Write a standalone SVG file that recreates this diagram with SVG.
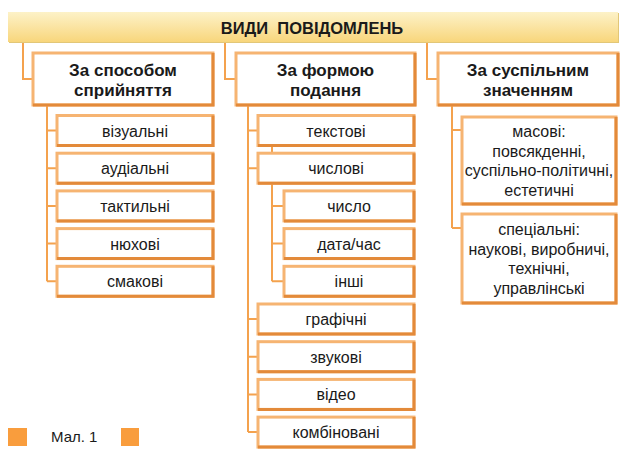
<svg xmlns="http://www.w3.org/2000/svg" width="624" height="451" viewBox="0 0 624 451">
<defs>
<linearGradient id="hdr" x1="0" y1="0" x2="0" y2="1">
<stop offset="0" stop-color="#fdf2c8"/>
<stop offset="1" stop-color="#f8d67c"/>
</linearGradient>
<style>
.box{fill:#ffffff;stroke:#f6b472;stroke-width:3}
.sh{fill:none;stroke:#e38a3a;stroke-width:3}
.con{fill:none;stroke:#f4a24e;stroke-width:2}
.t{font-family:"Liberation Sans",Arial,sans-serif;font-size:16px;fill:#1a1a1a;text-anchor:middle}
.b{font-weight:bold;font-size:17px}
</style>
</defs>
<rect width="624" height="451" fill="#ffffff"/>
<g id="connectors">
<path class="con" d="M23 42V79H33M225 42V79H236M427 42V79H438"/>
<path class="con" d="M47 105V281.3M47 130.5H57M47 168.2H57M47 205.9H57M47 243.6H57M47 281.3H57"/>
<path class="con" d="M248 105V432.1M248 130.5H258M248 168.2H258M248 319H258M248 356.7H258M248 394.4H258M248 432.1H258"/>
<path class="con" d="M272 146V281.3M272 205.9H284M272 243.6H284M272 281.3H284"/>
<path class="con" d="M452 105V228M452 130H462M452 228H462"/>
</g>
<g id="header">
<rect x="9" y="13" width="610" height="30" fill="#e2c778"/>
<rect x="8" y="12" width="610" height="30" fill="url(#hdr)"/>
<text class="t b" x="312" y="33.5" style="white-space:pre;font-size:16.5px">ВИДИ  ПОВІДОМЛЕНЬ</text>
</g>
<g id="n-sposib">
<rect class="box" x="33" y="53" width="180" height="52"/>
<path class="sh" d="M213 53V105H33"/>
<text class="t b" x="123" y="76">За способом</text>
<text class="t b" x="123" y="96">сприйняття</text>
</g>
<g id="n-forma">
<rect class="box" x="236" y="53" width="179" height="52"/>
<path class="sh" d="M415 53V105H236"/>
<text class="t b" x="325.5" y="76">За формою</text>
<text class="t b" x="325.5" y="96">подання</text>
</g>
<g id="n-znach">
<rect class="box" x="438" y="53" width="180" height="52"/>
<path class="sh" d="M618 53V105H438"/>
<text class="t b" x="528" y="76">За суспільним</text>
<text class="t b" x="528" y="96">значенням</text>
</g>
<g id="n-vizualni">
<rect class="box" x="57" y="115.5" width="156" height="30"/>
<path class="sh" d="M213 115.5V145.5H57"/>
<text class="t" x="135" y="136.5">візуальні</text>
</g>
<g id="n-audialni">
<rect class="box" x="57" y="153.2" width="156" height="30"/>
<path class="sh" d="M213 153.2V183.2H57"/>
<text class="t" x="135" y="174.2">аудіальні</text>
</g>
<g id="n-taktylni">
<rect class="box" x="57" y="190.9" width="156" height="30"/>
<path class="sh" d="M213 190.9V220.9H57"/>
<text class="t" x="135" y="211.9">тактильні</text>
</g>
<g id="n-niukhovi">
<rect class="box" x="57" y="228.6" width="156" height="30"/>
<path class="sh" d="M213 228.6V258.6H57"/>
<text class="t" x="135" y="249.6">нюхові</text>
</g>
<g id="n-smakovi">
<rect class="box" x="57" y="266.3" width="156" height="30"/>
<path class="sh" d="M213 266.3V296.3H57"/>
<text class="t" x="135" y="287.3">смакові</text>
</g>
<g id="n-tekstovi">
<rect class="box" x="258" y="115.5" width="156" height="30"/>
<path class="sh" d="M414 115.5V145.5H258"/>
<text class="t" x="336" y="136.5">текстові</text>
</g>
<g id="n-chyslovi">
<rect class="box" x="258" y="153.2" width="156" height="30"/>
<path class="sh" d="M414 153.2V183.2H258"/>
<text class="t" x="336" y="174.2">числові</text>
</g>
<g id="n-chyslo">
<rect class="box" x="284" y="190.9" width="130" height="30"/>
<path class="sh" d="M414 190.9V220.9H284"/>
<text class="t" x="349" y="211.9">число</text>
</g>
<g id="n-data">
<rect class="box" x="284" y="228.6" width="130" height="30"/>
<path class="sh" d="M414 228.6V258.6H284"/>
<text class="t" x="349" y="249.6">дата/час</text>
</g>
<g id="n-inshi">
<rect class="box" x="284" y="266.3" width="130" height="30"/>
<path class="sh" d="M414 266.3V296.3H284"/>
<text class="t" x="349" y="287.3">інші</text>
</g>
<g id="n-hrafichni">
<rect class="box" x="258" y="304" width="156" height="30"/>
<path class="sh" d="M414 304V334H258"/>
<text class="t" x="336" y="325">графічні</text>
</g>
<g id="n-zvukovi">
<rect class="box" x="258" y="341.7" width="156" height="30"/>
<path class="sh" d="M414 341.7V371.7H258"/>
<text class="t" x="336" y="362.7">звукові</text>
</g>
<g id="n-video">
<rect class="box" x="258" y="379.4" width="156" height="30"/>
<path class="sh" d="M414 379.4V409.4H258"/>
<text class="t" x="336" y="400.4">відео</text>
</g>
<g id="n-kombinovani">
<rect class="box" x="258" y="417.1" width="156" height="30"/>
<path class="sh" d="M414 417.1V447.1H258"/>
<text class="t" x="336" y="438.1">комбіновані</text>
</g>
<g id="n-masovi">
<rect class="box" x="462" y="117" width="154" height="87"/>
<path class="sh" d="M616 117V204H462"/>
<text class="t" x="539" y="137">масові:</text>
<text class="t" x="539" y="156.5">повсякденні,</text>
<text class="t" x="539" y="176">суспільно-політичні,</text>
<text class="t" x="539" y="195.5">естетичні</text>
</g>
<g id="n-spetsialni">
<rect class="box" x="462" y="214" width="154" height="89"/>
<path class="sh" d="M616 214V303H462"/>
<text class="t" x="539" y="235">спеціальні:</text>
<text class="t" x="539" y="254.5">наукові, виробничі,</text>
<text class="t" x="539" y="274">технічні,</text>
<text class="t" x="539" y="293.5">управлінські</text>
</g>
<g id="caption">
<rect x="8" y="428" width="19" height="18" fill="#f99d3d"/>
<rect x="121" y="428" width="18" height="18" fill="#f99d3d"/>
<text x="51" y="442" font-family="'Liberation Sans',Arial,sans-serif" font-size="15" fill="#1a1a1a">Мал. 1</text>
</g>
</svg>
